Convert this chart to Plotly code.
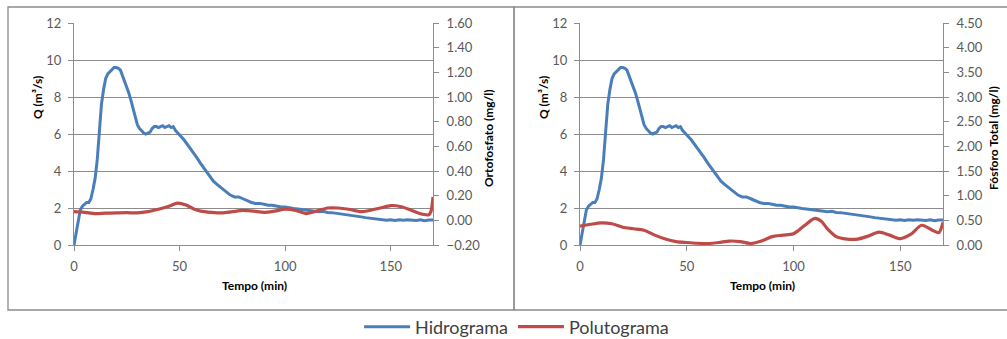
import plotly.graph_objects as go

# ---------------- data ----------------
hydro_t = list(range(0, 51)) + list(range(52, 171, 2))
hydro_q = [0.0, 0.7, 1.4, 1.9, 2.1, 2.2, 2.3, 2.3, 2.5, 3.0,
           3.6, 4.6, 6.3, 7.6, 8.4, 9.0, 9.25, 9.35, 9.5, 9.6,
           9.6, 9.55, 9.45, 9.15, 8.9, 8.6, 8.2, 7.8, 7.4, 6.9,
           6.5, 6.3, 6.15, 6.05, 6.0, 6.05, 6.1, 6.3, 6.4, 6.4,
           6.35, 6.4, 6.45, 6.35, 6.4, 6.45, 6.35, 6.4, 6.2, 6.1,
           5.95,
           5.7, 5.4, 5.05, 4.75, 4.4, 4.1, 3.75, 3.45, 3.25, 3.05,
           2.9, 2.7, 2.6, 2.6, 2.5, 2.4, 2.3, 2.25, 2.25, 2.2,
           2.15, 2.15, 2.1, 2.05, 2.05, 2.0, 1.97, 1.95, 1.92, 1.88,
           1.85, 1.82, 1.8, 1.82, 1.76, 1.75, 1.72, 1.7, 1.66, 1.62,
           1.58, 1.55, 1.52, 1.48, 1.45, 1.42, 1.38, 1.35, 1.34, 1.36,
           1.33, 1.36, 1.34, 1.37, 1.35, 1.33, 1.36, 1.31, 1.35, 1.35]

orto_t = [0, 5, 10, 15, 20, 25, 30, 35, 40, 45, 49, 53, 57, 60, 65, 70, 75, 80,
          85, 90, 95, 100, 105, 110, 115, 120, 125, 130, 136, 140, 145, 150, 155,
          160, 165, 168, 169, 170]
orto_v = [0.07, 0.065, 0.055, 0.058, 0.06, 0.062, 0.06, 0.07, 0.09, 0.115, 0.14,
          0.125, 0.09, 0.075, 0.065, 0.06, 0.07, 0.08, 0.075, 0.065, 0.075, 0.09,
          0.08, 0.055, 0.075, 0.10, 0.10, 0.09, 0.07, 0.08, 0.10, 0.12, 0.11,
          0.08, 0.05, 0.045, 0.07, 0.19]

pt_t = [0, 5, 10, 15, 20, 25, 30, 35, 40, 45, 50, 55, 60, 65, 70, 75, 80, 85, 90,
        95, 100, 105, 110, 113, 116, 120, 125, 130, 135, 140, 145, 150, 155, 160,
        165, 168, 170]
pt_v = [0.38, 0.42, 0.45, 0.43, 0.36, 0.33, 0.30, 0.20, 0.12, 0.07, 0.05, 0.035,
        0.03, 0.05, 0.08, 0.07, 0.03, 0.08, 0.17, 0.20, 0.23, 0.39, 0.54, 0.48,
        0.32, 0.17, 0.12, 0.12, 0.18, 0.26, 0.20, 0.13, 0.22, 0.40, 0.30, 0.25, 0.46]

x_ticks = [0, 50, 100, 150]
q_ticks = [0, 2, 4, 6, 8, 10, 12]

# ---------------- layout helpers ----------------
W, H = 1007, 339
BLUE = "#4a7ebb"
RED = "#be4b48"
AXC = "#8c8c8c"
TXT = "#595959"
FONT = "Lato"

def px(x):
    return x / W

def py(y):
    return 1 - y / H

fig = go.Figure()

fig.add_trace(go.Scatter(x=hydro_t, y=hydro_q, name="Hidrograma", mode="lines",
                         line=dict(color=BLUE, width=3), xaxis="x", yaxis="y"))
fig.add_trace(go.Scatter(x=orto_t, y=orto_v, name="Polutograma", mode="lines",
                         line=dict(color=RED, width=3.2, shape="spline", smoothing=0.8),
                         xaxis="x", yaxis="y2"))
fig.add_trace(go.Scatter(x=hydro_t, y=hydro_q, name="Hidrograma", mode="lines",
                         line=dict(color=BLUE, width=3), xaxis="x2", yaxis="y3",
                         showlegend=False))
fig.add_trace(go.Scatter(x=pt_t, y=pt_v, name="Polutograma", mode="lines",
                         line=dict(color=RED, width=3.2, shape="spline", smoothing=0.8),
                         xaxis="x2", yaxis="y4", showlegend=False))

tickfont = dict(family=FONT, size=13, color=TXT)
common_x = dict(range=[0, 170], tickvals=x_ticks, ticks="outside", ticklen=5,
                tickcolor=AXC, showline=True, linecolor=AXC, linewidth=1,
                showgrid=False, zeroline=False, tickfont=tickfont,
                ticklabelstandoff=4, automargin=False)
common_yl = dict(range=[0, 12], tickvals=q_ticks, ticks="outside", ticklen=5,
                 tickcolor=AXC, showline=True, linecolor=AXC, linewidth=1,
                 showgrid=True, gridcolor=AXC, gridwidth=1, zeroline=False,
                 tickfont=tickfont, ticklabelstandoff=4, automargin=False)
common_yr = dict(ticks="outside", ticklen=5, tickcolor=AXC, showline=True,
                 linecolor=AXC, linewidth=1, showgrid=False, zeroline=False,
                 tickfont=tickfont, side="right", tickformat=".2f",
                 ticklabelstandoff=5, automargin=False)

ydom = [py(245), py(23)]

fig.update_layout(
    width=W, height=H,
    margin=dict(l=0, r=0, t=0, b=0, autoexpand=False),
    paper_bgcolor="white", plot_bgcolor="white",
    font=dict(family=FONT, color="black"),
    xaxis=dict(domain=[px(74), px(433)], anchor="y", **common_x),
    yaxis=dict(domain=ydom, anchor="x", **common_yl),
    yaxis2=dict(overlaying="y", anchor="x", range=[-0.2, 1.6], dtick=0.2,
                tick0=-0.2, **common_yr),
    xaxis2=dict(domain=[px(580), px(943)], anchor="y3", **common_x),
    yaxis3=dict(domain=ydom, anchor="x2", **common_yl),
    yaxis4=dict(overlaying="y3", anchor="x2", range=[0, 4.5], dtick=0.5,
                tick0=0, **common_yr),
    legend=dict(orientation="h", x=0.513, xanchor="center", y=py(327),
                yanchor="middle", font=dict(family=FONT, size=18, color="#404040"),
                bgcolor="rgba(0,0,0,0)", itemwidth=46, tracegroupgap=0),
    showlegend=True,
)

# panel borders
fig.add_shape(type="rect", xref="paper", yref="paper", x0=px(8), x1=px(514),
              y0=py(310), y1=py(7), line=dict(color="#8c8c8c", width=1.3))
fig.add_shape(type="rect", xref="paper", yref="paper", x0=px(514), x1=px(1010),
              y0=py(310), y1=py(7), line=dict(color="#8c8c8c", width=1.3))

title_font = dict(family=FONT, size=12, color="black")
annos = [
    dict(text="<b>Q (m³/s)</b>", x=px(37), y=py(98), textangle=-90),
    dict(text="<b>Tempo (min)</b>", x=px(254), y=py(285), textangle=0),
    dict(text="<b>Ortofosfato (mg/l)</b>", x=px(488), y=py(138), textangle=-90),
    dict(text="<b>Q (m³/s)</b>", x=px(543), y=py(98), textangle=-90),
    dict(text="<b>Tempo (min)</b>", x=px(762), y=py(285), textangle=0),
    dict(text="<b>Fósforo Total (mg/l)</b>", x=px(993), y=py(138), textangle=-90),
]
for a in annos:
    fig.add_annotation(xref="paper", yref="paper", showarrow=False,
                       xanchor="center", yanchor="middle", font=title_font, **a)

fig.write_html(
    "out.html",
    config={"displayModeBar": False},
    post_script="document.body.style.margin='0';document.body.style.padding='0';"
                "document.documentElement.style.overflow='hidden';",
)
